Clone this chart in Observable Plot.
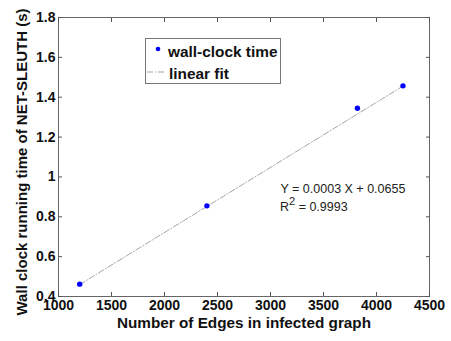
<!DOCTYPE html>
<html><head><meta charset="utf-8">
<script src="https://cdn.jsdelivr.net/npm/d3@7"></script>
<script src="https://cdn.jsdelivr.net/npm/@observablehq/plot@0.6"></script>
<style>
html,body{margin:0;padding:0;background:#fff;overflow:hidden;}
#chart{position:relative;width:451px;height:341px;}
</style>
</head><body><div id="chart"></div>
<script>
const edges = [1200, 2400, 3820, 4250];
const times = [0.462, 0.855, 1.345, 1.457];
const fitX = [1200, 4250];
const fitY = [0.460, 1.456];
const xTicks = [1000, 1500, 2000, 2500, 3000, 3500, 4000, 4500];
const yTicks = [0.4, 0.6, 0.8, 1, 1.2, 1.4, 1.6, 1.8];
const xLabel = "Number of Edges in infected graph";
const yLabel = "Wall clock running time of NET-SLEUTH (s)";
const eqText = "Y = 0.0003 X + 0.0655";
const r2Parts = ["R", "2", " = 0.9993"];
const legendLabels = ["wall-clock time", "linear fit"];

const pts = edges.map((e, i) => ({x: e, y: times[i]}));
const fit = fitX.map((e, i) => ({x: e, y: fitY[i]}));
const font = "'Liberation Sans', Arial, sans-serif";
const tickColor = "#555";

const chart = Plot.plot({
  width: 451, height: 341,
  marginLeft: 58, marginRight: 22, marginTop: 17, marginBottom: 45,
  style: {fontFamily: font, background: "#fff", color: "#000"},
  x: {domain: [1000, 4500]},
  y: {domain: [0.4, 1.8]},
  marks: [
    Plot.frame({stroke: "#666", strokeWidth: 1}),
    Plot.axisX(xTicks, {anchor: "bottom", tickSize: 0, tickPadding: 4, fontSize: 14, fontWeight: "bold", fill: "#111", label: null, tickFormat: d => String(d)}),
    Plot.axisX(xTicks, {anchor: "bottom", tickSize: 4, dy: -4, text: null, stroke: tickColor, label: null}),
    Plot.axisX(xTicks, {anchor: "top", tickSize: 4, dy: 4, text: null, stroke: tickColor, label: null}),
    Plot.axisY(yTicks, {anchor: "left", tickSize: 0, tickPadding: 3, fontSize: 14, fontWeight: "bold", fill: "#111", label: null, tickFormat: d => String(d)}),
    Plot.axisY(yTicks, {anchor: "left", tickSize: 4, dx: 4, text: null, stroke: tickColor, label: null}),
    Plot.axisY(yTicks, {anchor: "right", tickSize: 4, dx: -4, text: null, stroke: tickColor, label: null}),
    Plot.text([xLabel], {frameAnchor: "bottom", dy: 31, fontSize: 15.3, fontWeight: "bold", fill: "#111"}),
    Plot.text([yLabel], {frameAnchor: "left", dx: -36, dy: 5, rotate: -90, textAnchor: "middle", fontSize: 15, fontWeight: "bold", fill: "#111"}),
    Plot.line(fit, {x: "x", y: "y", stroke: "#999", strokeWidth: 0.9, strokeDasharray: "6,2,1,2"}),
    Plot.dot(pts, {x: "x", y: "y", r: 2.7, fill: "#0000ff", stroke: "none"}),
    Plot.text([eqText], {frameAnchor: "top-left", dx: 222, dy: 167, textAnchor: "start", fontSize: 12.5, fill: "#222"})
  ]
});
document.getElementById("chart").appendChild(chart);

const svg = d3.select(chart);
// R^2 annotation with a real superscript
const r2 = svg.append("text").attr("font-family", font).attr("text-anchor", "start")
  .attr("x", 280).attr("y", 211).attr("font-size", 12.5).attr("fill", "#222");
r2.append("tspan").text(r2Parts[0]);
r2.append("tspan").attr("dy", -6).attr("font-size", 11).text(r2Parts[1]);
r2.append("tspan").attr("dy", 6).text(r2Parts[2]);

// legend box (inside plot, top-left area)
const lg = svg.append("g").attr("font-family", font).attr("text-anchor", "start");
lg.append("rect").attr("x", 145.5).attr("y", 38.5).attr("width", 135).attr("height", 45)
  .attr("fill", "#fff").attr("stroke", "#777");
lg.append("circle").attr("cx", 158).attr("cy", 49).attr("r", 2.3).attr("fill", "#0000ff");
lg.append("line").attr("x1", 147).attr("x2", 165).attr("y1", 72).attr("y2", 72)
  .attr("stroke", "#999").attr("stroke-width", 0.9).attr("stroke-dasharray", "6,2,1,2");
lg.append("text").attr("x", 168).attr("y", 57).attr("font-size", 15.4).attr("font-weight", "bold").attr("fill", "#111").text(legendLabels[0]);
lg.append("text").attr("x", 169).attr("y", 79).attr("font-size", 15.4).attr("font-weight", "bold").attr("fill", "#111").text(legendLabels[1]);
</script>
</body></html>
